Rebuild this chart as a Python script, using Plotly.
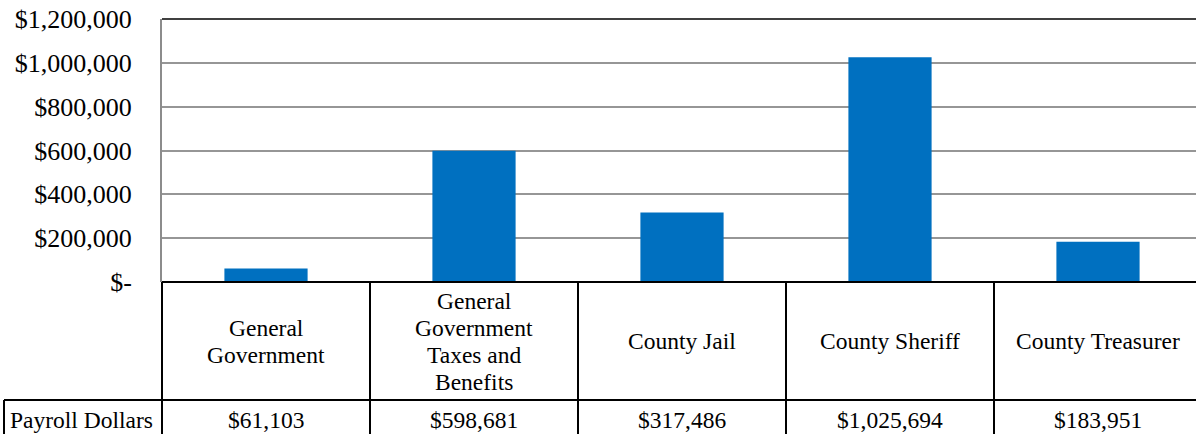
import plotly.graph_objects as go

categories = ["General<br>Government", "General<br>Government<br>Taxes and<br>Benefits",
              "County Jail", "County Sheriff", "County Treasurer"]
series_name = "Payroll Dollars"
payroll = [61103, 598681, 317486, 1025694, 183951]
tick_vals = [0, 200000, 400000, 600000, 800000, 1000000, 1200000]
tick_text = ["$-", "$200,000", "$400,000", "$600,000", "$800,000", "$1,000,000", "$1,200,000"]

W, H = 1196, 434
L, T, B_PX = 162, 19, 282          # plot area pixels
PLOT_W = W - L
PLOT_H = B_PX - T
CAT_PX = 208.0
XR = [-0.5, -0.5 + PLOT_W / CAT_PX]

FONT = "Liberation Serif"
TFS = 23.5
LINE_H = 27.3

def px_y(y):
    return (B_PX - y) / PLOT_H

def px_x(x):
    return (x - L) / PLOT_W

def cat_x(v):
    return (v - XR[0]) / (XR[1] - XR[0])

x_idx = list(range(len(categories)))

fig = go.Figure(go.Bar(x=x_idx, y=payroll, width=0.4, marker_color="#0070C0",
                       marker_line_width=0, name=series_name))

fig.update_layout(
    width=W, height=H, margin=dict(l=L, r=0, t=T, b=H - B_PX),
    paper_bgcolor="white", plot_bgcolor="white", showlegend=False,
    font=dict(family=FONT, color="black"),
    xaxis=dict(range=XR, showticklabels=False, showgrid=False, zeroline=False,
               showline=False, fixedrange=True),
    yaxis=dict(range=[0, 1200000], tickvals=tick_vals, ticktext=tick_text,
               tickfont=dict(size=26, family=FONT, color="black"),
               showgrid=True, gridcolor="#969696", gridwidth=2,
               zeroline=False, showline=True, linecolor="#8c8c8c", linewidth=2,
               ticks="", ticklabelstandoff=23),
)

shapes = []
line = dict(color="black", width=2)
shapes.append(dict(type="line", xref="paper", yref="paper", x0=0, x1=1, y0=1, y1=1,
                   line=dict(color="#404040", width=2)))
shapes.append(dict(type="line", xref="paper", yref="paper", x0=0, x1=1.01, y0=0, y1=0, line=line))
shapes.append(dict(type="line", xref="paper", yref="paper", x0=px_x(4), x1=1.01,
                   y0=px_y(400), y1=px_y(400), line=line))
for i in range(len(categories)):
    xv = cat_x(i - 0.5)
    shapes.append(dict(type="line", xref="paper", yref="paper", x0=xv, x1=xv,
                       y0=0, y1=px_y(440), line=line))
shapes.append(dict(type="line", xref="paper", yref="paper", x0=px_x(4), x1=px_x(4),
                   y0=px_y(400), y1=px_y(440), line=line))
fig.update_layout(shapes=shapes)

tfont = dict(size=TFS, family=FONT, color="black")
ann = []
for i, c in enumerate(categories):
    lines = c.split("<br>")
    n = len(lines)
    for k, ln in enumerate(lines):
        yc = 341.5 + (k - (n - 1) / 2) * LINE_H
        ann.append(dict(x=cat_x(i), y=px_y(yc), xref="paper", yref="paper", text=ln,
                        showarrow=False, xanchor="center", yanchor="middle", font=tfont))
    ann.append(dict(x=cat_x(i), y=px_y(420), xref="paper", yref="paper",
                    text="${:,}".format(payroll[i]), showarrow=False,
                    xanchor="center", yanchor="middle", font=tfont))
ann.append(dict(x=px_x(8), y=px_y(420), xref="paper", yref="paper", text=series_name,
                showarrow=False, xanchor="left", yanchor="middle", font=tfont))
fig.update_layout(annotations=ann)

fig.write_html("out.html")
